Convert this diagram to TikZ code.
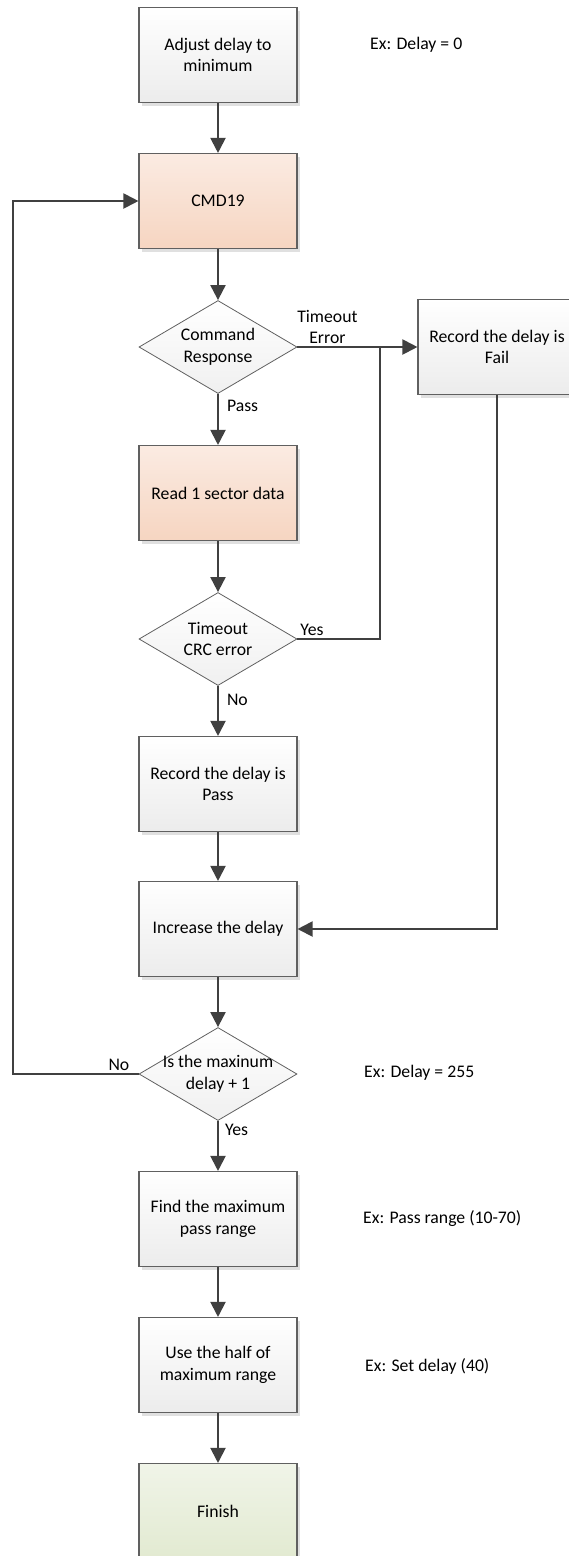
\documentclass[tikz,border=0pt]{standalone}
\usepackage{fontspec}
\setmainfont{Carlito}
\usepackage{tikz}
\usetikzlibrary{shapes.geometric, arrows.meta, positioning, shadows}

\definecolor{linegray}{HTML}{404040}
\definecolor{boxedge}{HTML}{606060}
\definecolor{peachtop}{HTML}{FBEBE2}
\definecolor{peachbot}{HTML}{F6D5C1}
\definecolor{greentop}{HTML}{F0F4E8}
\definecolor{greenbot}{HTML}{E2EAD1}

\begin{document}
\begin{tikzpicture}[x=1pt,y=-1pt,
  font=\fontsize{17.7}{21.6}\selectfont,
  stepbox/.style={draw=boxedge, line width=1.1pt, minimum width=158pt, minimum height=95pt,
    align=center, inner sep=2pt, top color=white, bottom color=gray!15,
    drop shadow={shadow xshift=3pt, shadow yshift=-3pt, fill=black!12, opacity=1}},
  cmdbox/.style={stepbox, top color=peachtop, bottom color=peachbot},
  endbox/.style={stepbox, top color=greentop, bottom color=greenbot},
  % the text may run over the edge, so it sits in a centre label
  check/.style={diamond, draw=boxedge, line width=0.8pt, minimum width=158pt, minimum height=93pt,
    inner sep=0pt, top color=white, bottom color=gray!12,
    label={[align=center, inner sep=0pt]center:#1}},
  arr/.style={draw=linegray, line width=2pt, -{Triangle[length=15pt,width=15pt]}},
  wire/.style={draw=linegray, line width=2pt},
  lbl/.style={inner sep=2pt},
  note/.style={anchor=west, inner sep=0pt}]
\useasboundingbox (0,0) rectangle (568,1556);

% main column
\node[stepbox] (adjust) at (218,55) {Adjust delay to\\minimum};
\node[cmdbox] (cmd) at (218,201) {CMD19};
\node[check={Command\\Response}] (resp) at (218,347) {};
\node[cmdbox] (read) at (218,493) {Read 1 sector data};
\node[check={Timeout\\CRC error}] (crc) at (218,639) {};
\node[stepbox] (pass) at (218,784) {Record the delay is\\Pass};
\node[stepbox] (inc) at (218,929) {Increase the delay};
\node[check={Is the maxinum\\delay + 1}] (maxq) at (218,1074) {};
\node[stepbox] (find) at (218,1219) {Find the maximum\\pass range};
\node[stepbox] (half) at (218,1365) {Use the half of\\maximum range};
\node[endbox] (fin) at (218,1511) {Finish};

% side branch
\node[stepbox] (fail) at (497,347) {Record the delay is\\Fail};
\coordinate (j) at (380,347);
\coordinate (lp) at (13,1074);

% notes
\node[note] (n0) at (370,45) {Ex: Delay = 0};
\node[note] (n1) at (364,1073) {Ex: Delay = 255};
\node[note] (n2) at (363,1219) {Ex: Pass range (10-70)};
\node[note] (n3) at (365,1366) {Ex: Set delay (40)};

% connectors
\draw[arr] (adjust) -- (cmd);
\draw[arr] (cmd) -- (resp);
\draw[arr] (resp.south) -- node[lbl, right=6pt, pos=0.23] {Pass} (read.north);
\draw[arr] (resp.east) -- node[lbl, above, pos=0.25, align=center] {Timeout\\Error} (fail.west);
\draw[arr] (read) -- (crc);
\draw[wire] (crc.east) -- node[lbl, anchor=south west, pos=0] {Yes} (crc.east -| j) -- (j);
\draw[arr] (crc.south) -- node[lbl, right=6pt, pos=0.27] {No} (pass.north);
\draw[arr] (pass) -- (inc);
\draw[arr] (fail.south) |- (inc.east);
\draw[arr] (inc) -- (maxq);
\draw[arr] (maxq.west) -- node[lbl, anchor=south east, pos=0.05] {No} (lp) |- (cmd.west);
\draw[arr] (maxq.south) -- node[lbl, right=4pt, pos=0.18] {Yes} (find.north);
\draw[arr] (find) -- (half);
\draw[arr] (half) -- (fin);
\end{tikzpicture}
\end{document}
